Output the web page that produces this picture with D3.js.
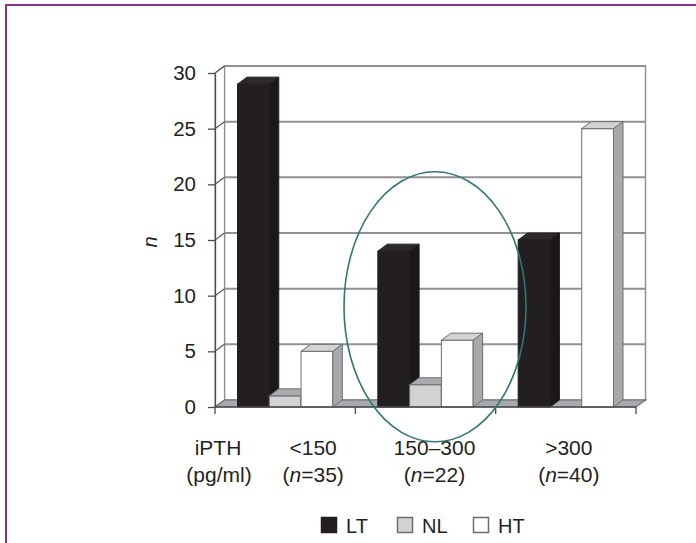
<!DOCTYPE html>
<html>
<head>
<meta charset="utf-8">
<script src="https://cdn.jsdelivr.net/npm/d3@7"></script>
<style>
  body { margin: 0; background: #fff; }
  svg { display: block; }
  text { font-family: "Liberation Sans", Arial, Helvetica, sans-serif; fill: #231f20; }
</style>
</head>
<body>
<svg id="chart" width="696" height="543"></svg>
<script>
// iPTH groups and patient counts
const groups = ["<150", "150–300", ">300"];
const groupCounts = [35, 22, 40];
const seriesNames = ["LT", "NL", "HT"];
// number of patients per group in each series
const ltValues = [29, 14, 15];
const nlValues = [1, 2, 0];
const htValues = [5, 6, 25];
const yTicks = [0, 5, 10, 15, 20, 25, 30];

const seriesValues = { LT: ltValues, NL: nlValues, HT: htValues };

// face colours of the 3D boxes (front, top, side, outline)
const faces = {
  LT: { front: "#231f20", top: "#2d292a", side: "#1b1819", stroke: "#231f20" },
  NL: { front: "#d1d3d4", top: "#a9abae", side: "#a7a9ac", stroke: "#6d6e71" },
  HT: { front: "#ffffff", top: "#d1d3d4", side: "#a7a9ac", stroke: "#6d6e71" }
};

const svg = d3.select("#chart");
const plot = { left: 215, right: 636, top: 73, bottom: 407 };
const depth = { dx: 9.5, dy: -7 };
const gridColor = "#8f9194";
const edgeColor = "#6d6e71";

// outer purple frame
svg.append("path")
  .attr("d", "M6,545 L6,5 L698,5")
  .attr("fill", "none").attr("stroke", "#84358b").attr("stroke-width", 2);

const x = d3.scaleBand().domain(groups).range([plot.left, plot.right]);
const inner = d3.scaleBand().domain(seriesNames).range([22.5, x.bandwidth() - 22.5]);
const y = d3.scaleLinear().domain([0, 30]).range([plot.bottom, plot.top]);

const pts = a => a.map(p => p.join(",")).join(" ");

// back wall
svg.append("rect")
  .attr("x", plot.left + depth.dx).attr("y", plot.top + depth.dy)
  .attr("width", plot.right - plot.left).attr("height", plot.bottom - plot.top)
  .attr("fill", "#fff").attr("stroke", gridColor).attr("stroke-width", 1.5);

// left side wall
svg.append("polygon")
  .attr("points", pts([[plot.left, plot.bottom], [plot.left + depth.dx, plot.bottom + depth.dy],
                       [plot.left + depth.dx, plot.top + depth.dy], [plot.left, plot.top]]))
  .attr("fill", "#fff").attr("stroke", gridColor).attr("stroke-width", 1.2);

// gridlines on the back wall plus their diagonals on the side wall
const gridTicks = yTicks.filter(t => t > 0);
svg.append("g").selectAll("line.grid").data(gridTicks).join("line")
  .attr("x1", plot.left + depth.dx).attr("x2", plot.right + depth.dx)
  .attr("y1", d => y(d) + depth.dy).attr("y2", d => y(d) + depth.dy)
  .attr("stroke", gridColor).attr("stroke-width", 2);
svg.append("g").selectAll("line.diag").data(gridTicks).join("line")
  .attr("x1", plot.left).attr("x2", plot.left + depth.dx)
  .attr("y1", d => y(d)).attr("y2", d => y(d) + depth.dy)
  .attr("stroke", "#5a5b5d").attr("stroke-width", 1.2);

// floor
svg.append("polygon")
  .attr("points", pts([[plot.left, plot.bottom], [plot.right, plot.bottom],
                       [plot.right + depth.dx, plot.bottom + depth.dy], [plot.left + depth.dx, plot.bottom + depth.dy]]))
  .attr("fill", "#a7a9ac").attr("stroke", edgeColor).attr("stroke-width", 1.2);

// bars as 3D boxes, drawn left to right
const bars = [];
groups.forEach((g, gi) => {
  seriesNames.forEach(s => {
    bars.push({ group: g, series: s, value: seriesValues[s][gi] });
  });
});

const barG = svg.append("g");
bars.filter(d => d.value > 0).forEach(d => {
  const x0 = x(d.group) + inner(d.series);
  const x1 = x0 + inner.bandwidth();
  const yT = y(d.value), y0 = y(0);
  const f = faces[d.series];
  const g = barG.append("g");
  g.append("rect").attr("x", x0).attr("y", yT).attr("width", x1 - x0).attr("height", y0 - yT)
    .attr("fill", f.front).attr("stroke", f.stroke).attr("stroke-width", 1);
  g.append("polygon")
    .attr("points", pts([[x0, yT], [x0 + depth.dx, yT + depth.dy], [x1 + depth.dx, yT + depth.dy], [x1, yT]]))
    .attr("fill", f.top).attr("stroke", f.stroke).attr("stroke-width", 1);
  g.append("polygon")
    .attr("points", pts([[x1, yT], [x1 + depth.dx, yT + depth.dy], [x1 + depth.dx, y0 + depth.dy], [x1, y0]]))
    .attr("fill", f.side).attr("stroke", f.stroke).attr("stroke-width", 1);
});

// y axis on the front edge
const yAxis = svg.append("g")
  .attr("transform", `translate(${plot.left},0)`)
  .call(d3.axisLeft(y).tickValues(yTicks).tickSize(7).tickSizeOuter(0).tickPadding(12));
yAxis.select(".domain").attr("stroke", "#4d4d4f").attr("stroke-width", 1.3);
yAxis.selectAll(".tick line").attr("stroke", "#4d4d4f").attr("stroke-width", 1.3);
yAxis.selectAll(".tick text").attr("font-size", 20.5).attr("fill", "#231f20")
  .style("font-family", '"Liberation Sans", Arial, sans-serif');

// front floor edge and category ticks
svg.append("line").attr("x1", plot.left).attr("x2", plot.right)
  .attr("y1", plot.bottom).attr("y2", plot.bottom)
  .attr("stroke", "#4d4d4f").attr("stroke-width", 1.3);
const boundaries = groups.map(g => x(g)).concat([x.range()[1]]);
svg.append("g").selectAll("line").data(boundaries).join("line")
  .attr("x1", d => d).attr("x2", d => d)
  .attr("y1", plot.bottom).attr("y2", plot.bottom + 7)
  .attr("stroke", "#4d4d4f").attr("stroke-width", 1.3);

// axis title
svg.append("text")
  .attr("transform", "translate(157,242) rotate(-90)")
  .attr("text-anchor", "middle").attr("font-size", 20).attr("font-style", "italic")
  .text("n");

// category labels
const labelNudge = [28, 9, 3];
const line1 = 455, line2 = 482;
const xl = svg.append("g").attr("font-size", 21).attr("text-anchor", "middle");
xl.append("text").attr("x", plot.left + 3).attr("y", line1).text("iPTH");
xl.append("text").attr("x", plot.left + 4).attr("y", line2).text("(pg/ml)");
groups.forEach((g, i) => {
  const cx = x(g) + x.bandwidth() / 2 + labelNudge[i];
  xl.append("text").attr("x", cx).attr("y", line1).text(g);
  const t = xl.append("text").attr("x", cx).attr("y", line2);
  t.append("tspan").text("(");
  t.append("tspan").attr("font-style", "italic").text("n");
  t.append("tspan").text("=" + groupCounts[i] + ")");
});

// highlight around the middle group
const mid = groups[1];
svg.append("ellipse")
  .attr("cx", x(mid) + x.bandwidth() / 2 + depth.dx)
  .attr("cy", y(9))
  .attr("rx", 91).attr("ry", 135)
  .attr("fill", "none").attr("stroke", "#2f7674").attr("stroke-width", 1.6);

// legend
const legend = svg.append("g").attr("transform", "translate(321,517)");
seriesNames.forEach((s, i) => {
  const g = legend.append("g").attr("transform", `translate(${i * 76},0)`);
  g.append("rect").attr("x", 0.5).attr("y", 0.5).attr("width", 15).attr("height", 15)
    .attr("fill", faces[s].front).attr("stroke", s === "LT" ? "#231f20" : "#6d6e71").attr("stroke-width", 1.5);
  g.append("text").attr("x", 25).attr("y", 16).attr("font-size", 20).text(s);
});
</script>
</body>
</html>
